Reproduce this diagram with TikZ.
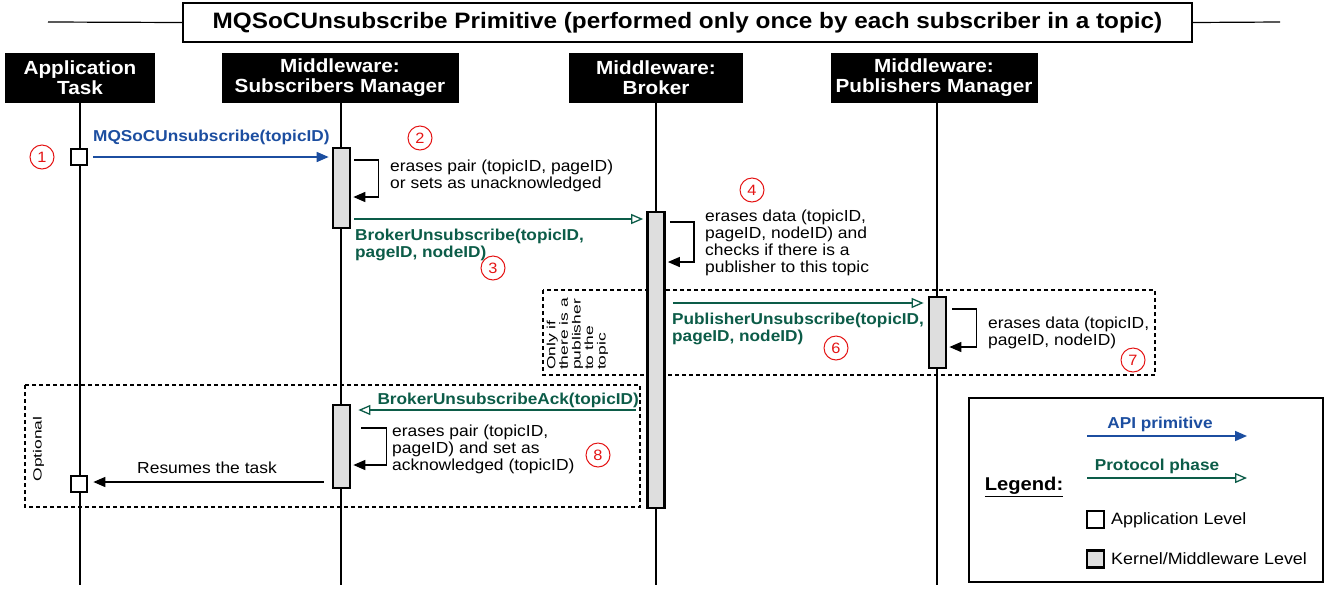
\documentclass[tikz,border=0pt]{standalone}
\usepackage{fontspec}
\setmainfont{Liberation Sans}[FakeStretch=1.09]
\usetikzlibrary{arrows.meta}
\definecolor{apiblue}{RGB}{28,78,160}
\definecolor{protgreen}{RGB}{12,92,72}
\definecolor{actgray}{RGB}{222,222,222}
\definecolor{numred}{RGB}{228,20,20}
\newcommand{\fsz}[2]{\fontsize{#1}{#2}\selectfont}
% rotated side notes are set narrow across their lines
\newcommand{\sidenote}[1]{\scalebox{1}[0.74]{\begin{tabular}{@{}l@{}}#1\end{tabular}}}
\begin{document}
\begin{tikzpicture}[x=1pt,y=-1pt,
  head/.style={fill=black, text=white, font=\fsz{19}{20}\bfseries, align=center,
    minimum height=50pt, inner sep=0pt},
  life/.style={line width=2.7pt},
  act/.style={draw, line width=2.7pt, fill=actgray, minimum width=17pt, inner sep=0pt},
  appact/.style={draw, line width=2.7pt, fill=white, minimum width=16pt, minimum height=16pt, inner sep=0pt},
  num/.style={circle, draw=numred, text=numred, line width=1pt, minimum size=24pt,
    inner sep=0pt, font=\fsz{15}{15}},
  api/.style={draw=apiblue, line width=1.6pt, -{Triangle[length=12pt,width=10pt]}, color=apiblue},
  prot/.style={draw=protgreen, line width=1.3pt, -{Triangle[open,length=12pt,width=10pt,fill=white]}},
  ret/.style={line width=1.5pt, -{Triangle[length=12pt,width=10pt]}},
  lbl/.style={font=\fsz{16}{17}, align=left, inner sep=0pt},
  leglbl/.style={font=\fsz{16.4}{17}, align=left, inner sep=0pt},
  apilbl/.style={font=\fsz{15.8}{17}\bfseries, text=apiblue, align=left, inner sep=0pt},
  protlbl/.style={font=\fsz{15.8}{17}\bfseries, text=protgreen, align=left, inner sep=0pt},
  dashbox/.style={draw, line width=1.2pt, dash pattern=on 4pt off 3pt},
  vlbl/.style={rotate=90, font=\fsz{16}{17}, inner sep=0pt}
]
\useasboundingbox (0,0) rectangle (1327,590);

% title bar
\coordinate (tl) at (48,22);
\coordinate (tr) at (1280,22);
\node[draw, fill=white, line width=1.2pt, minimum width=1009pt, minimum height=39pt,
  inner sep=0pt, font=\fsz{22.3}{22}\bfseries] (title) at (687.5,22.5)
  {MQSoCUnsubscribe Primitive (performed only once by each subscriber in a topic)};
\draw[line width=1.2pt] (tl) -- (title.west);
\draw[line width=1.2pt] (title.east) -- (tr);

% participants
\node[head, minimum width=150pt] (app) at (80,78) {Application\\Task};
\node[head, minimum width=237pt] (sub) at (340,78) {Middleware:\\Subscribers Manager};
\node[head, minimum width=174pt] (brk) at (656,78) {Middleware:\\Broker};
\node[head, minimum width=207pt] (pub) at (934,78) {Middleware:\\Publishers Manager};

% lifelines
\coordinate (appEnd) at (80,585);
\coordinate (subEnd) at (341,585);
\coordinate (brkEnd) at (656,585);
\coordinate (pubEnd) at (937,585);
\draw[life] (app.south -| appEnd) -- (appEnd);
\draw[life] (sub.south -| subEnd) -- (subEnd);
\draw[life] (brk.south -| brkEnd) -- (brkEnd);
\draw[life] (pub.south -| pubEnd) -- (pubEnd);

% optional frames
\draw[dashbox] (543,290) rectangle (1155,375);
\draw[dashbox] (25,385) rectangle (640,507);
\node[vlbl] (onlyif) at (578,334) {\sidenote{Only if\\there is a\\publisher\\to the\\topic}};
\node[vlbl] (opt) at (39,449) {\sidenote{Optional}};

% activations
\node[appact] (app1) at (79,157) {};
\node[appact] (app2) at (79,484) {};
\node[act, minimum height=80pt] (sa1) at (341.5,188) {};
\node[act, minimum height=83pt] (sa2) at (341.5,446.5) {};
\node[act, minimum height=296pt] (ba) at (656,360) {};
\node[act, minimum height=71pt] (pa) at (937.5,332.5) {};

% step 1: API call
\draw[api, shorten <=5pt, shorten >=3pt] (app1.east) -- (app1.east -| sa1.west);
\node[apilbl, anchor=base west] (l1) at (93,141) {MQSoCUnsubscribe(topicID)};
\node[num] (n1) at (42,157) {1};

% step 2: subscribers manager self action
\draw[ret, shorten <=3pt, shorten >=2pt] (sa1.east |- 0,160) -- ++(27,0) -- ++(0,37) -- (sa1.east |- 0,197);
\node[lbl, anchor=north west] (l2) at (390,160) {erases pair (topicID, pageID)\\or sets as unacknowledged};
\node[num] (n2) at (420,138) {2};

% step 3: broker unsubscribe
\draw[prot, shorten <=3pt, shorten >=3pt] (sa1.east |- 0,219) -- (ba.west |- 0,219);
\node[protlbl, anchor=north west] (l3) at (355,229) {BrokerUnsubscribe(topicID,\\pageID, nodeID)};
\node[num] (n3) at (493,268) {3};

% step 4: broker self action
\draw[ret, shorten <=4pt, shorten >=2pt] (ba.east |- 0,222) -- ++(28,0) -- ++(0,40) -- (ba.east |- 0,262);
\node[lbl, anchor=north west] (l4) at (705,210) {erases data (topicID,\\pageID, nodeID) and\\checks if there is a\\publisher to this topic};
\node[num] (n4) at (752,190) {4};

% step 6: publisher unsubscribe
\draw[prot, shorten <=7pt, shorten >=4pt] (ba.east |- 0,303) -- (pa.west |- 0,303);
\node[protlbl, anchor=north west] (l6) at (672,313) {PublisherUnsubscribe(topicID,\\pageID, nodeID)};
\node[num] (n6) at (836,348) {6};

% step 7: publishers manager self action
\draw[ret, shorten <=5pt, shorten >=2pt] (pa.east |- 0,309) -- ++(29,0) -- ++(0,38) -- (pa.east |- 0,347);
\node[lbl, anchor=north west] (l7) at (988,317) {erases data (topicID,\\pageID, nodeID)};
\node[num] (n7) at (1133,360) {7};

% step 8: acknowledgement
\draw[prot, shorten <=10pt, shorten >=7pt] (ba.west |- 0,410) -- (sa2.east |- 0,410);
\node[protlbl, anchor=base east] (l8a) at (639,404) {BrokerUnsubscribeAck(topicID)};
\draw[ret, shorten <=10pt, shorten >=2pt] (sa2.east |- 0,428) -- ++(35,0) -- ++(0,37) -- (sa2.east |- 0,465);
\node[lbl, anchor=north west] (l8) at (392,425) {erases pair (topicID,\\pageID) and set as\\acknowledged (topicID)};
\node[num] (n8) at (598,455) {8};
\draw[ret, shorten <=8pt, shorten >=5pt] (sa2.west |- 0,482) -- (app2.east |- 0,482);
\node[lbl] (l9) at (207,468) {Resumes the task};

% legend
\node[draw, line width=1.2pt, minimum width=354pt, minimum height=184pt, inner sep=0pt] (leg) at (1146,490) {};
\node[font=\fsz{18.5}{18}\bfseries, inner sep=0pt] (legt) at (1024,487) {\underline{Legend:}};
\coordinate (apiA) at (1087,436);
\coordinate (apiB) at (1247,436);
\draw[api] (apiA) -- (apiB);
\node[apilbl] (lapi) at (1160,424) {API primitive};
\coordinate (protA) at (1087,478);
\coordinate (protB) at (1247,478);
\draw[prot] (protA) -- (protB);
\node[protlbl] (lprot) at (1157,466) {Protocol phase};
\node[appact, minimum width=17pt, minimum height=17pt] (lgapp) at (1095.5,519.5) {};
\node[leglbl, anchor=west] (lgappt) at (1111,520) {Application Level};
\node[act, minimum width=17pt, minimum height=17pt] (lgker) at (1095.5,559) {};
\node[leglbl, anchor=west] (lgkert) at (1111,559) {Kernel/Middleware Level};
\end{tikzpicture}
\end{document}
